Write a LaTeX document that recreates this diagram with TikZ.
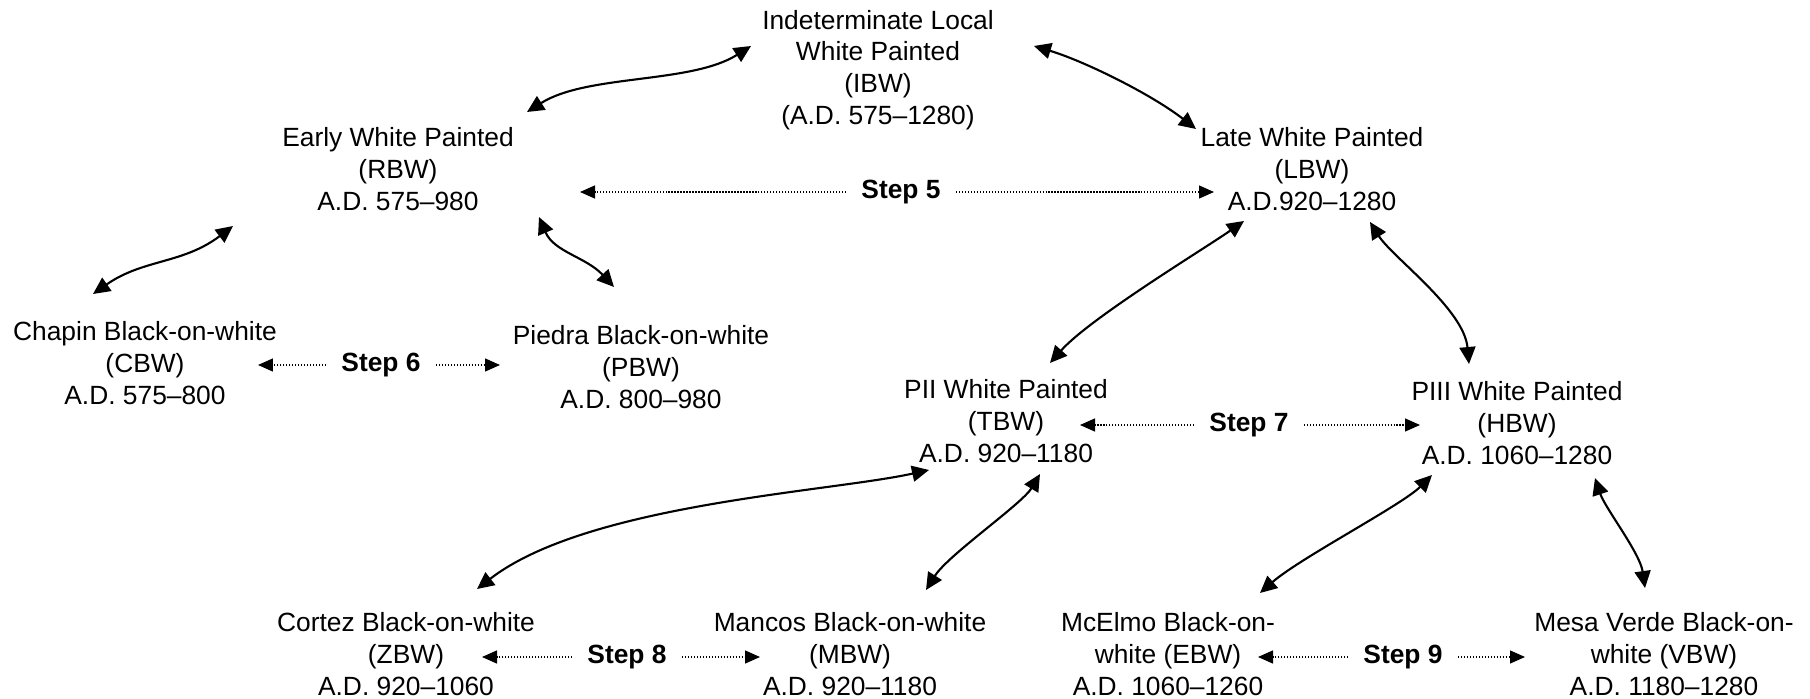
\documentclass[tikz,border=0pt]{standalone}
\usepackage{fontspec}
\setmainfont{Liberation Sans}
\usetikzlibrary{arrows.meta,calc}

\begin{document}
\begin{tikzpicture}[x=0.02cm,y=-0.02cm,
    font={\fontsize{15}{18.1}\selectfont},
    ware/.style={align=center,inner sep=0pt},
    steplabel/.style={font={\fontsize{15}{18.1}\selectfont\bfseries},inner xsep=0.3cm,inner ysep=0pt},
    link/.style={line width=1.2pt,{Triangle[length=0.34cm,width=0.32cm]}-{Triangle[length=0.34cm,width=0.32cm]}},
    steparrow/.style={line width=0.8pt,dash pattern=on 0.8pt off 0.9pt,-{Triangle[length=0.3cm,width=0.26cm]}}]
    \useasboundingbox (0,0) rectangle (1810,699);

    % ware types
    \node[ware] (ibw) at (878,70) {Indeterminate Local\\White Painted\\(IBW)\\(A.D. 575--1280)};
    \node[ware] (rbw) at (398,169) {Early White Painted\\(RBW)\\A.D. 575--980};
    \node[ware] (lbw) at (1312,169) {Late White Painted\\(LBW)\\A.D.920--1280};
    \node[ware] (cbw) at (145,363) {Chapin Black-on-white\\(CBW)\\A.D. 575--800};
    \node[ware] (pbw) at (641,367) {Piedra Black-on-white\\(PBW)\\A.D. 800--980};
    \node[ware] (tbw) at (1006,421) {PII White Painted\\(TBW)\\A.D. 920--1180};
    \node[ware] (hbw) at (1517,423) {PIII White Painted\\(HBW)\\A.D. 1060--1280};
    \node[ware] (zbw) at (406,654) {Cortez Black-on-white\\(ZBW)\\A.D. 920--1060};
    \node[ware] (mbw) at (850,654) {Mancos Black-on-white\\(MBW)\\A.D. 920--1180};
    \node[ware] (ebw) at (1168,654) {McElmo Black-on-\\white (EBW)\\A.D. 1060--1260};
    \node[ware] (vbw) at (1664,654) {Mesa Verde Black-on-\\white (VBW)\\A.D. 1180--1280};

    % steps
    \node[steplabel] (s5) at (901,192) {Step 5};
    \node[steplabel] (s6) at (381,365) {Step 6};
    \node[steplabel] (s7) at (1249,425) {Step 7};
    \node[steplabel] (s8) at (627,657) {Step 8};
    \node[steplabel] (s9) at (1403,657) {Step 9};

    \draw[steparrow] (s5.west) -- ($(rbw)+(182,23)$);
    \draw[steparrow] (s5.east) -- ($(lbw)+(-98,23)$);
    \draw[steparrow] (s6.west) -- ($(cbw)+(113,2)$);
    \draw[steparrow] (s6.east) -- ($(pbw)+(-141,-2)$);
    \draw[steparrow] (s7.west) -- ($(tbw)+(74,4)$);
    \draw[steparrow] (s7.east) -- ($(hbw)+(-97,2)$);
    \draw[steparrow] (s8.west) -- ($(zbw)+(76,3)$);
    \draw[steparrow] (s8.east) -- ($(mbw)+(-90,3)$);
    \draw[steparrow] (s9.west) -- ($(ebw)+(90,3)$);
    \draw[steparrow] (s9.east) -- ($(vbw)+(-139,3)$);

    % links
    \draw[link] ($(rbw)+(129,-57)$) .. controls +(60,-38) and +(-60,38) .. ($(ibw)+(-127,-24)$);
    \draw[link] ($(ibw)+(156,-24)$) .. controls +(50,15) and +(-45,-35) .. ($(lbw)+(-116,-40)$);
    \draw[link] ($(rbw)+(-165,57)$) .. controls +(-50,38) and +(50,-35) .. ($(cbw)+(-52,-69)$);
    \draw[link] ($(rbw)+(141,48)$) .. controls +(15,35) and +(-28,-30) .. ($(pbw)+(-27,-80)$);
    \draw[link] ($(lbw)+(-68,52)$) .. controls +(-40,28) and +(40,-45) .. ($(tbw)+(44,-58)$);
    \draw[link] ($(lbw)+(58,53)$) .. controls +(22,35) and +(-5,-55) .. ($(hbw)+(-48,-59)$);
    \draw[link] ($(tbw)+(-77,49)$) .. controls +(-100,22) and +(110,-85) .. ($(zbw)+(71,-65)$);
    \draw[link] ($(tbw)+(34,53)$) .. controls +(-18,30) and +(22,-35) .. ($(mbw)+(76,-64)$);
    \draw[link] ($(hbw)+(-85,52)$) .. controls +(-30,30) and +(40,-35) .. ($(ebw)+(92,-61)$);
    \draw[link] ($(hbw)+(78,55)$) .. controls +(10,30) and +(-5,-35) .. ($(vbw)+(-19,-66)$);
\end{tikzpicture}
\end{document}
